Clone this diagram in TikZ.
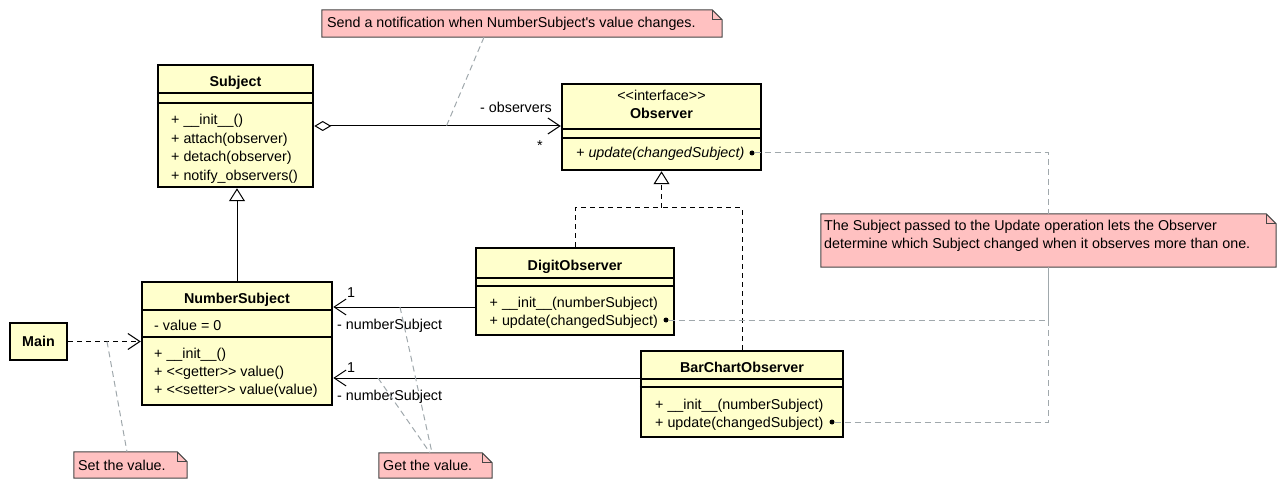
\documentclass[tikz,border=0pt]{standalone}
\usepackage{fontspec}
\setmainfont{Liberation Sans}[Ligatures=TeXOff]
\usetikzlibrary{arrows.meta}
\definecolor{classfill}{RGB}{255,255,204}
\definecolor{notefill}{RGB}{255,193,193}
\definecolor{notedraw}{RGB}{70,70,70}
\definecolor{notelink}{RGB}{160,168,172}
\newcommand{\umlsize}{\fontsize{14.3}{18.5}\selectfont}
\tikzset{classbox/.style={draw, line width=2.5pt, fill=classfill, inner sep=0pt}}
\tikzset{classname/.style={font=\umlsize\bfseries, inner sep=0pt, text height=10pt, text depth=0pt}}
\tikzset{member/.style={anchor=west, inner sep=0pt, text height=10pt, text depth=0pt}}
\tikzset{compline/.style={line width=1.2pt}}
\tikzset{notebox/.style={draw=notedraw, fill=notefill, line width=1pt}}
\tikzset{noteline/.style={draw=notelink, dash pattern=on 6pt off 4pt, line width=1pt}}
\tikzset{dotend/.style={circle, fill=black, inner sep=0pt, minimum size=5pt}}
\tikzset{assoc/.style={-{Straight Barb[length=12pt,width=16pt]}, line width=1pt}}
\tikzset{depend/.style={assoc, dash pattern=on 5pt off 4pt}}
\tikzset{inherit/.style={-{Triangle[open,fill=white,length=13pt,width=16pt]}, line width=1pt}}
\tikzset{realize/.style={dash pattern=on 5pt off 4pt, line width=1pt}}
\newcommand{\notefold}[1]{%
  \filldraw[notebox] (#1.south west) -- (#1.north west) -- ([xshift=-10pt]#1.north east)
    -- ([yshift=-10pt]#1.north east) -- (#1.south east) -- cycle;
  \draw[notebox, fill=none] ([xshift=-10pt]#1.north east) |- ([yshift=-10pt]#1.north east);}

\begin{document}
\begin{tikzpicture}[x=1pt,y=-1pt,font=\umlsize]
  \useasboundingbox (0,0) rectangle (1287,494);

  %% Subject
  \node[classbox, minimum width=155pt, minimum height=122pt] (subject) at (235.5,126) {};
  \draw[compline] (subject.west |- 0,93) -- (subject.east |- 0,93);
  \draw[compline] (subject.west |- 0,103) -- (subject.east |- 0,103);
  \node[classname] (subjecttitle) at (235.5,81.5) {Subject};
  \foreach \y/\txt [count=\i] in {120/{+ \_\_init\_\_()}, 138.5/{+ attach(observer)},
      157/{+ detach(observer)}, 175.5/{+ notify\_observers()}}
    \node[member] (subjectop\i) at (171,\y) {\txt};

  %% Observer
  \node[classbox, minimum width=199pt, minimum height=86pt] (observer) at (661.5,127) {};
  \draw[compline] (observer.west |- 0,129) -- (observer.east |- 0,129);
  \draw[compline] (observer.west |- 0,138) -- (observer.east |- 0,138);
  \node[member, anchor=center] (observerstereo) at (661.5,96) {<<interface>>};
  \node[classname] (observertitle) at (661.5,114) {Observer};
  \node[member] (observerop1) at (576,153) {\itshape + update(changedSubject)};
  \node[dotend] (obsdot) at (752,153) {};

  %% NumberSubject
  \node[classbox, minimum width=190pt, minimum height=123pt] (numbersubject) at (237,343.5) {};
  \draw[compline] (numbersubject.west |- 0,310) -- (numbersubject.east |- 0,310);
  \draw[compline] (numbersubject.west |- 0,337) -- (numbersubject.east |- 0,337);
  \node[classname] (numbersubjecttitle) at (237,298) {NumberSubject};
  \node[member] (numbersubjectattr) at (154,325) {- value = 0};
  \foreach \y/\txt [count=\i] in {353/{+ \_\_init\_\_()}, 371/{+ <<getter>> value()},
      389/{+ <<setter>> value(value)}}
    \node[member] (numbersubjectop\i) at (154,\y) {\txt};

  %% Main
  \node[classbox, minimum width=57pt, minimum height=37pt] (main) at (38.5,341.5) {};
  \node[classname] (maintitle) at (38.5,341.5) {Main};

  %% DigitObserver
  \node[classbox, minimum width=198pt, minimum height=87pt] (digit) at (575,291.5) {};
  \draw[compline] (digit.west |- 0,278) -- (digit.east |- 0,278);
  \draw[compline] (digit.west |- 0,286) -- (digit.east |- 0,286);
  \node[classname] (digittitle) at (575,265) {DigitObserver};
  \node[member] (digitop1) at (489.5,302) {+ \_\_init\_\_(numberSubject)};
  \node[member] (digitop2) at (489.5,320) {+ update(changedSubject)};
  \node[dotend] (digitdot) at (666,320) {};

  %% BarChartObserver
  \node[classbox, minimum width=202pt, minimum height=86pt] (barchart) at (742,394) {};
  \draw[compline] (barchart.west |- 0,379) -- (barchart.east |- 0,379);
  \draw[compline] (barchart.west |- 0,387) -- (barchart.east |- 0,387);
  \node[classname] (barcharttitle) at (742,367) {BarChartObserver};
  \node[member] (barchartop1) at (655,404) {+ \_\_init\_\_(numberSubject)};
  \node[member] (barchartop2) at (655,422) {+ update(changedSubject)};
  \node[dotend] (bardot) at (832,422) {};

  %% Relations
  \draw[assoc, {Diamond[open,fill=white,length=17pt,width=10pt]}-{Straight Barb[length=12pt,width=16pt]}]
    (subject.east) -- (subject.east -| observer.west);
  \node[member, anchor=center] (observerslabel) at (516,108) {- observers};
  \node[member, anchor=center] (observersmult) at (540,146) {*};
  \draw[inherit] (numbersubject.north) -- (numbersubject.north |- subject.south);
  \coordinate (realjoin) at (observer.south |- 0,208);
  \draw[realize] (digit.north) |- (realjoin);
  \draw[realize] (barchart.north) |- (realjoin);
  \draw[realize, -{Triangle[open,fill=white,length=13pt,width=16pt]}] (realjoin) -- (observer.south);
  \draw[assoc] (digit.west |- 0,307) -- (numbersubject.east |- 0,307);
  \node[member] (digitmult) at (347,293) {1};
  \node[member] (digitrole) at (337,324) {- numberSubject};
  \draw[assoc] (barchart.west |- 0,378) -- (numbersubject.east |- 0,378);
  \node[member] (barmult) at (347,367) {1};
  \node[member] (barrole) at (337,395) {- numberSubject};
  \draw[depend] (main.east) -- (main.east -| numbersubject.west);

  %% Notes
  \node[minimum width=400pt, minimum height=27pt, inner sep=0pt] (sendnote) at (522,23.5) {};
  \notefold{sendnote}
  \node[member] (sendnotetext) at (327,23) {Send a notification when NumberSubject's value changes.};

  \node[minimum width=455pt, minimum height=53pt, inner sep=0pt] (subjectnote) at (1048.5,240.5) {};
  \notefold{subjectnote}
  \node[member] (subjectnotetext1) at (824,226) {The Subject passed to the Update operation lets the Observer};
  \node[member] (subjectnotetext2) at (824,244) {determine which Subject changed when it observes more than one.};

  \node[minimum width=113pt, minimum height=26pt, inner sep=0pt] (setnote) at (130.5,465) {};
  \notefold{setnote}
  \node[member] (setnotetext) at (78,465) {Set the value.};

  \node[minimum width=113pt, minimum height=25pt, inner sep=0pt] (getnote) at (435.5,465.5) {};
  \notefold{getnote}
  \node[member] (getnotetext) at (383,465.5) {Get the value.};

  %% Note links
  \coordinate (aggmid) at (446,127);
  \draw[noteline] ([xshift=-38pt]sendnote.south) -- (aggmid);
  \draw[noteline] (obsdot) -| (subjectnote.north);
  \draw[noteline] (digitdot) -| (subjectnote.south);
  \draw[noteline] (bardot) -| (subjectnote.south);
  \coordinate (mainmid) at (107,341.5);
  \draw[noteline] (mainmid) -- ([xshift=-3.5pt]setnote.north);
  \coordinate (digitmid) at (400,307);
  \coordinate (barmid) at (378,378);
  \draw[noteline] (digitmid) -- ([xshift=-3.5pt]getnote.north);
  \draw[noteline] (barmid) -- ([xshift=-5.5pt]getnote.north);
\end{tikzpicture}
\end{document}
